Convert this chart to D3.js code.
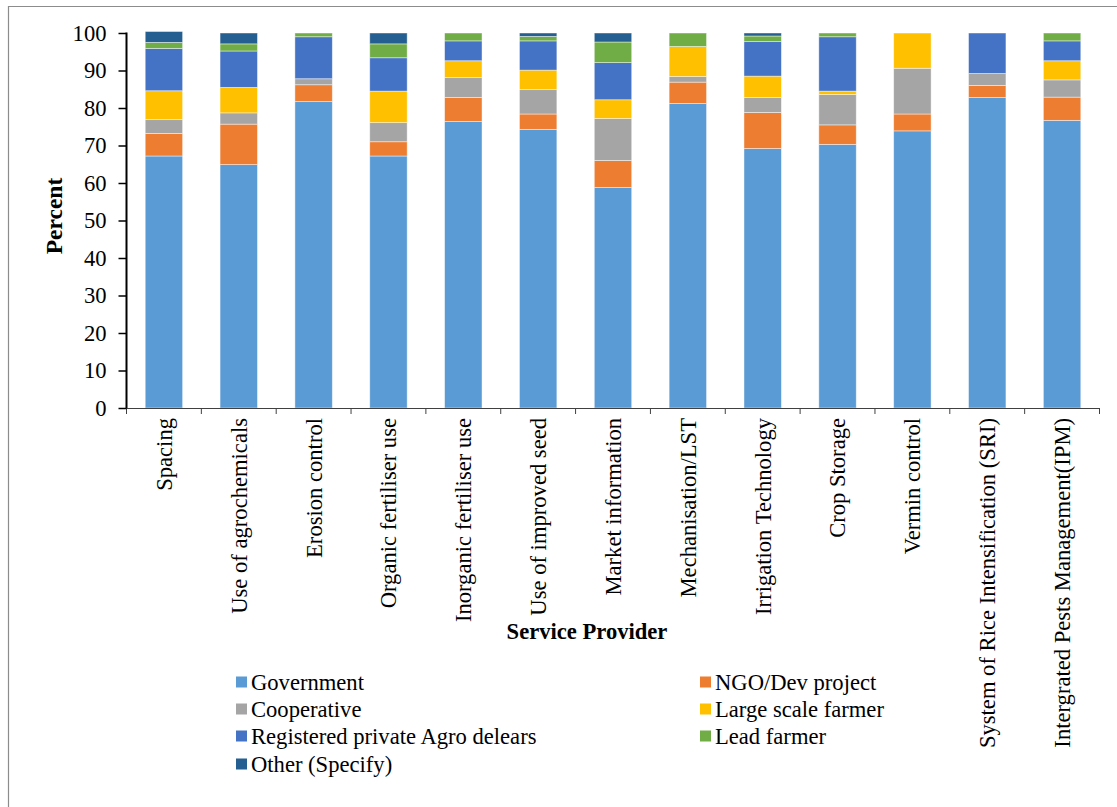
<!DOCTYPE html>
<html>
<head>
<meta charset="utf-8">
<script src="https://cdn.jsdelivr.net/npm/d3@7"></script>
<style>
  html, body { margin: 0; padding: 0; background: #fff; }
  svg { display: block; font-family: "Liberation Serif", "Times New Roman", serif; }
</style>
</head>
<body>
<svg id="chart" width="1117" height="807"></svg>
<script>
const categories = ["Spacing", "Use of agrochemicals", "Erosion control", "Organic fertiliser use",
  "Inorganic fertiliser use", "Use of improved seed", "Market information", "Mechanisation/LST",
  "Irrigation Technology", "Crop Storage", "Vermin control", "System of Rice Intensification (SRI)",
  "Intergrated Pests Management(IPM)"];

const seriesNames = ["Government", "NGO/Dev project", "Cooperative", "Large scale farmer",
  "Registered private Agro delears", "Lead farmer", "Other (Specify)"];

const government   = [67.2, 64.9, 81.7, 67.2, 76.4, 74.3, 58.8, 81.2, 69.2, 70.3, 73.9, 82.8, 76.7];
const ngo          = [6.0, 10.8, 4.5, 3.8, 6.4, 4.1, 7.2, 5.7, 9.6, 5.2, 4.5, 3.2, 6.2];
const cooperative  = [3.7, 3.0, 1.6, 5.1, 5.3, 6.5, 11.2, 1.5, 4.0, 8.1, 12.2, 3.2, 4.6];
const largeScale   = [7.7, 6.8, 0.0, 8.4, 4.5, 5.2, 5.0, 8.0, 5.7, 0.9, 9.4, 0.0, 5.1];
const registered   = [11.3, 9.7, 11.2, 8.9, 5.3, 7.8, 9.9, 0.0, 9.2, 14.5, 0.0, 10.8, 5.3];
const leadFarmer   = [1.6, 1.9, 1.0, 3.7, 2.1, 1.2, 5.5, 3.6, 1.5, 1.0, 0.0, 0.0, 2.1];
const other        = [2.9, 2.9, 0.0, 2.9, 0.0, 0.9, 2.4, 0.0, 0.8, 0.0, 0.0, 0.0, 0.0];

const yTicks = [0, 10, 20, 30, 40, 50, 60, 70, 80, 90, 100];
const colors = ["#5B9BD5", "#ED7D31", "#A5A5A5", "#FFC000", "#4472C4", "#70AD47", "#255E91"];

(function () {
const seriesValues = [government, ngo, cooperative, largeScale, registered, leadFarmer, other];
const keys = seriesNames;
const rows = categories.map((c, i) => {
  const r = { category: c };
  keys.forEach((k, j) => { r[k] = seriesValues[j][i]; });
  return r;
});

const svg = d3.select("#chart");
const fontSize = 22.6;

// outer border (top & left visible)
svg.append("line").attr("x1", 8).attr("x2", 1117).attr("y1", 6.5).attr("y2", 6.5)
  .attr("stroke", "#8c8c8c").attr("stroke-width", 1.2);
svg.append("line").attr("x1", 8.5).attr("x2", 8.5).attr("y1", 6).attr("y2", 807)
  .attr("stroke", "#8c8c8c").attr("stroke-width", 1.2);

const pLeft = 126.5, pRight = 1099.5, pTop = 33, pBottom = 408;

const x = d3.scaleBand().domain(categories).range([pLeft, pRight]).paddingInner(0.5).paddingOuter(0.25);
const y = d3.scaleLinear().domain([0, 100]).range([pBottom, pTop]);

const stacked = d3.stack().keys(keys)(rows);

svg.append("g").selectAll("g.series").data(stacked).join("g")
  .attr("class", "series")
  .attr("fill", (d, i) => colors[i])
  .selectAll("rect").data(d => d).join("rect")
  .attr("x", d => x(d.data.category))
  .attr("width", x.bandwidth())
  .attr("y", d => y(d[1]))
  .attr("height", d => Math.max(0, y(d[0]) - y(d[1])))
  .attr("stroke", "#ffffff").attr("stroke-opacity", 0.55).attr("stroke-width", 0.8);

// x axis
const xg = svg.append("g").attr("transform", `translate(0,${pBottom})`)
  .call(d3.axisBottom(x).tickSize(0).tickFormat(""));
xg.select(".domain").attr("stroke", "#404040").attr("stroke-width", 1.2);
const bandStep = x.step();
const boundaries = d3.range(categories.length + 1).map(i => pLeft + i * bandStep);
svg.append("g").selectAll("line").data(boundaries).join("line")
  .attr("x1", d => d).attr("x2", d => d)
  .attr("y1", pBottom).attr("y2", pBottom + 6)
  .attr("stroke", "#404040").attr("stroke-width", 1);

// x labels rotated
svg.append("g").selectAll("text").data(categories).join("text")
  .attr("transform", d => `translate(${x(d) + x.bandwidth() / 2},418) rotate(-90)`)
  .attr("text-anchor", "end")
  .attr("dy", "0.35em")
  .attr("font-size", fontSize)
  .attr("fill", "#000")
  .text(d => d);

// y axis
const yg = svg.append("g").attr("transform", `translate(${pLeft},0)`)
  .call(d3.axisLeft(y).tickValues(yTicks).tickSize(8).tickPadding(12));
yg.select(".domain").attr("stroke", "#000").attr("stroke-width", 2)
  .attr("d", `M0,${pTop - 0.5}V${pBottom}`);
yg.selectAll(".tick line").attr("stroke", "#000").attr("stroke-width", 1.5);
yg.selectAll(".tick text").attr("font-size", fontSize).attr("fill", "#000")
  .attr("font-family", "'Liberation Serif', 'Times New Roman', serif");

// axis titles
svg.append("text")
  .attr("transform", "translate(54,216) rotate(-90)")
  .attr("text-anchor", "middle").attr("dy", "0.35em")
  .attr("font-size", 23.5).attr("font-weight", "bold")
  .text("Percent");
svg.append("text")
  .attr("x", 587).attr("y", 631).attr("dy", "0.35em")
  .attr("text-anchor", "middle")
  .attr("font-size", fontSize).attr("font-weight", "bold")
  .text("Service Provider");

// legend
const legendPos = [
  [236, 682], [700, 682],
  [236, 709], [700, 709],
  [236, 736], [700, 736],
  [236, 764]
];
const lg = svg.append("g");
seriesNames.forEach((name, i) => {
  const [lx, ly] = legendPos[i];
  lg.append("rect").attr("x", lx).attr("y", ly - 5.5).attr("width", 11).attr("height", 11)
    .attr("fill", colors[i]);
  lg.append("text").attr("x", lx + 15).attr("y", ly).attr("dy", "0.35em")
    .attr("font-size", fontSize).attr("fill", "#000").text(name);
});
})();
</script>
</body>
</html>
